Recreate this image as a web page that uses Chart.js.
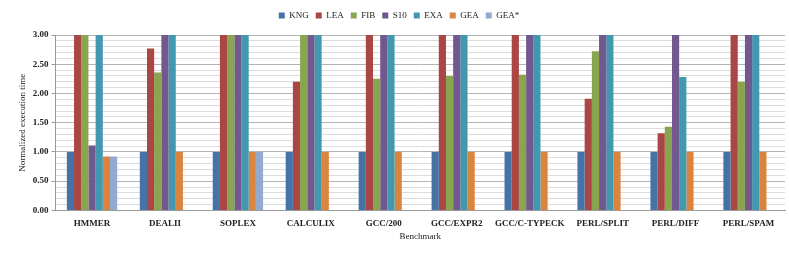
<!DOCTYPE html>
<html><head><meta charset="utf-8">
<script src="https://cdn.jsdelivr.net/npm/chart.js@4"></script>
<style>html,body{margin:0;padding:0;background:#fff}#wrap{width:789px;height:256px}</style>
</head><body><div id="wrap"><canvas id="c" width="789" height="256"></canvas></div>
<script>
const categories = ["HMMER","DEALII","SOPLEX","CALCULIX","GCC/200","GCC/EXPR2","GCC/C-TYPECK","PERL/SPLIT","PERL/DIFF","PERL/SPAM"];
const seriesNames = ["KNG","LEA","FIB","S10","EXA","GEA","GEA*"];
const KNG  = [1,1,1,1,1,1,1,1,1,1];
const LEA  = [3,2.77,3,2.2,3,3,3,1.91,1.32,3];
const FIB  = [3,2.36,3,3,2.25,2.3,2.32,2.72,1.43,2.2];
const S10  = [1.11,3,3,3,3,3,3,3,3,3];
const EXA  = [3,3,3,3,3,3,3,3,2.28,3];
const GEA  = [0.92,1,1,1,1,1,1,1,1,1];
const GEAS = [0.92,null,1,null,null,null,null,null,null,null];
const yTicks = [0,0.5,1,1.5,2,2.5,3];
const colors = ["#4572A7","#AA4643","#89A54E","#71588F","#4198AF","#DB843D","#93A9CF"];
const values = [KNG,LEA,FIB,S10,EXA,GEA,GEAS];
const font = "'Liberation Serif', 'DejaVu Serif', serif";
const legendGap = {id:'legendGap', beforeInit(chart){const f=chart.legend.fit; chart.legend.fit=function(){f.call(this); this.height+=5;};}};
const isMajor = (v)=>Math.round(v*10)%5===0;
new Chart(document.getElementById('c'), {
  type: 'bar',
  data: {
    labels: categories,
    datasets: seriesNames.map((n,i)=>({label:n,data:values[i],backgroundColor:colors[i],borderWidth:0,barPercentage:1,categoryPercentage:0.69}))
  },
  options: {
    responsive:false, animation:false,
    layout:{padding:{left:13,right:4,top:4,bottom:10}},
    plugins:{
      legend:{position:'top',labels:{boxWidth:6,boxHeight:6,padding:7,font:{family:font,size:9},color:'#222'}},
      tooltip:{enabled:false}
    },
    scales:{
      x:{grid:{display:false},border:{color:'#999'},ticks:{padding:0,font:{family:font,size:9,weight:'bold'},color:'#222',maxRotation:0,autoSkip:false},
         title:{display:true,text:'Benchmark',font:{family:font,size:9},color:'#222',padding:{top:2}}},
      y:{min:0,max:3,afterBuildTicks:(s)=>{s.ticks=[];for(let k=0;k<=30;k++)s.ticks.push({value:k/10});},
         ticks:{autoSkip:false,font:{family:font,size:9,weight:'bold'},color:'#222',callback:(v)=>isMajor(v)?yTicks[Math.round(v*2)].toFixed(2):''},
         grid:{color:(ctx)=>isMajor(ctx.tick.value)?'#b4b4b4':'#dcdcdc',tickColor:(ctx)=>isMajor(ctx.tick.value)?'#999':'rgba(0,0,0,0)',lineWidth:1,drawTicks:true,tickLength:4},
         border:{color:'#999'},
         title:{display:true,text:'Normalized execution time',font:{family:font,size:9},color:'#222',padding:{bottom:2}}}
    }
  },
  plugins:[legendGap]
});
</script></body></html>
